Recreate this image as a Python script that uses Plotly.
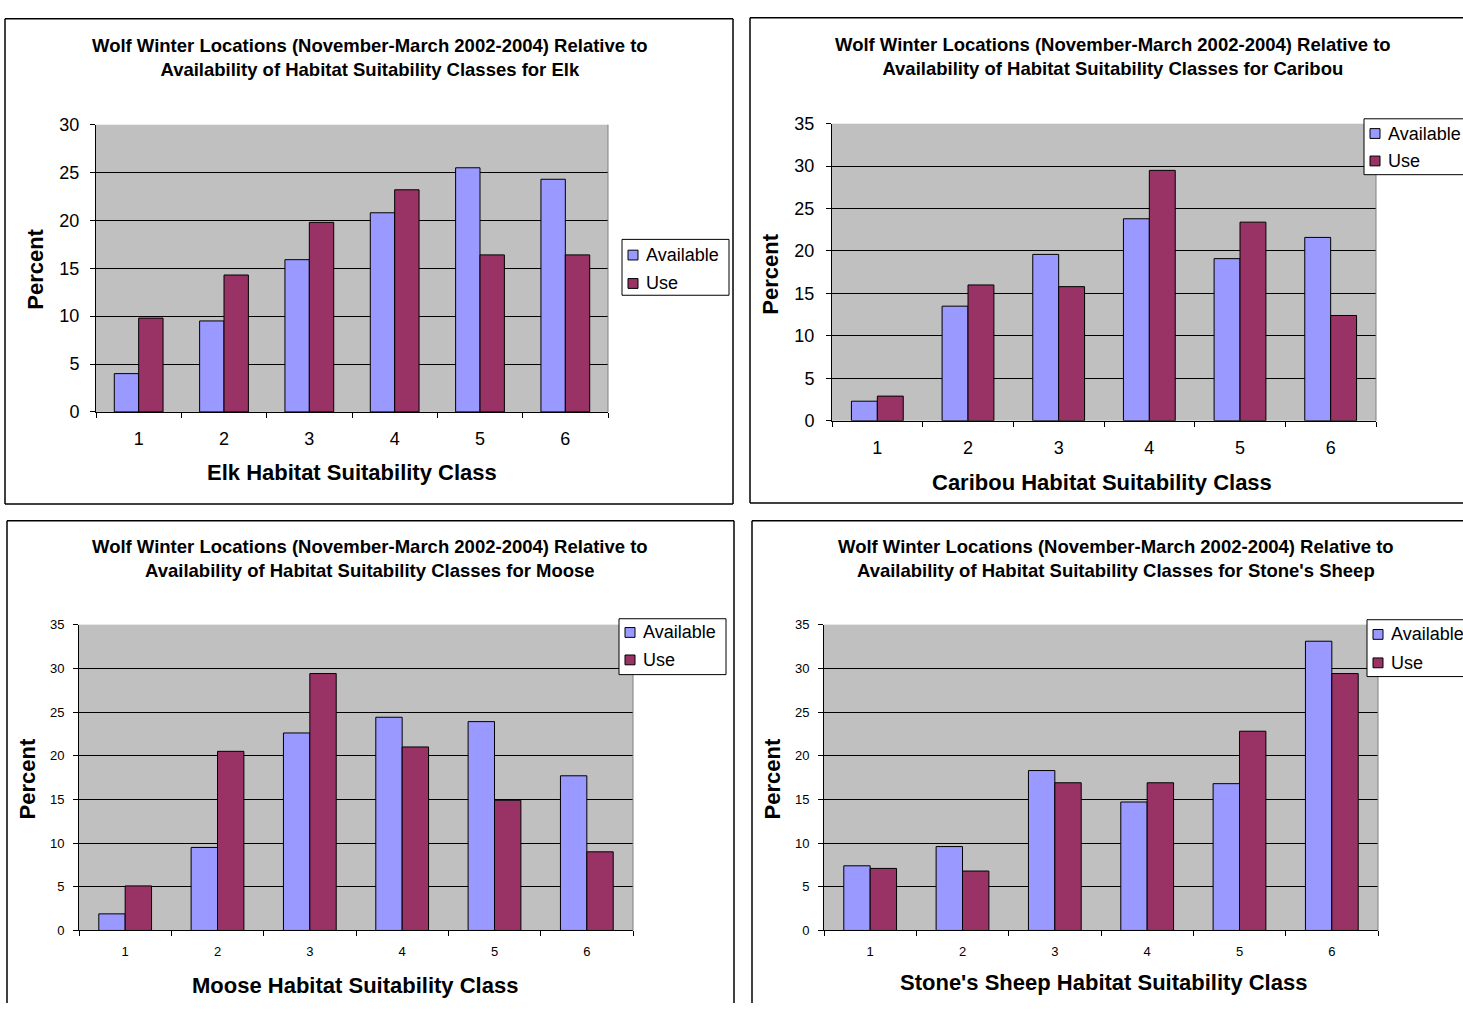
import plotly.graph_objects as go

W, H = 1463, 1013

classes = ["1", "2", "3", "4", "5", "6"]

elk_available = [4.0, 9.5, 15.9, 20.8, 25.5, 24.3]
elk_use = [9.8, 14.3, 19.8, 23.2, 16.4, 16.4]

caribou_available = [2.3, 13.5, 19.6, 23.8, 19.1, 21.6]
caribou_use = [2.9, 16.0, 15.8, 29.5, 23.4, 12.4]

moose_available = [1.9, 9.5, 22.6, 24.4, 23.9, 17.7]
moose_use = [5.1, 20.5, 29.4, 21.0, 14.9, 9.0]

sheep_available = [7.4, 9.6, 18.3, 14.7, 16.8, 33.1]
sheep_use = [7.1, 6.8, 16.9, 16.9, 22.8, 29.4]

series_names = ["Available", "Use"]
species = ["Elk", "Caribou", "Moose", "Stone's Sheep"]

AVAIL_COLOR = "#9999FF"
USE_COLOR = "#993366"
SERIES_COLORS = (AVAIL_COLOR, USE_COLOR)
PLOT_BG = "#C0C0C0"
FONT = "Arial, Liberation Sans, sans-serif"


def px_x(v):
    return min(v, W) / W


def px_y(v):
    return 1 - min(v, H) / H


# per-panel layout in pixels: plot area, frame edges, title, axis titles, legend box
panels = [
    dict(data=(elk_available, elk_use), ymax=30,
         plot=(96, 608, 117, 410), frame=(5, 733, 9, 504),
         title_xy=(370, 48), xt_xy=(352, 472), yt_xy=(36, 265),
         legend=(622, 729, 234, 291), rows=(250, 279),
         tick=18, ystand=7, xstand=10),
    dict(data=(caribou_available, caribou_use), ymax=35,
         plot=(832, 1376, 116, 419), frame=(750, 1500, 8, 503),
         title_xy=(1113, 47), xt_xy=(1102, 482), yt_xy=(771, 270),
         legend=(1364, 1500, 111, 168), rows=(126, 154),
         tick=18, ystand=8, xstand=11),
    dict(data=(moose_available, moose_use), ymax=35,
         plot=(79, 633, 627, 939), frame=(7, 734, 521, 1100),
         title_xy=(370, 560), xt_xy=(355, 995), yt_xy=(28, 785),
         legend=(619, 726, 621, 678), rows=(635, 663),
         tick=13, ystand=6, xstand=9),
    dict(data=(sheep_available, sheep_use), ymax=35,
         plot=(824, 1378, 627, 939), frame=(752, 1500, 521, 1100),
         title_xy=(1116, 560), xt_xy=(1103, 992), yt_xy=(773, 785),
         legend=(1367, 1500, 622, 680), rows=(637, 666),
         tick=13, ystand=6, xstand=9),
]

fig = go.Figure()
layout = dict(
    width=W, height=H,
    margin=dict(l=0, r=0, t=0, b=0),
    paper_bgcolor="white",
    plot_bgcolor=PLOT_BG,
    barmode="group",
    bargap=0.4286,
    bargroupgap=0,
    font=dict(family=FONT, color="black"),
    showlegend=False,
)

annotations = []
shapes = []


def edge_lines(x0, x1, y0, y1, color="black", width=1.5, fill=None):
    """Box outline; sides lying past the page edge are left out."""
    out = []
    if fill:
        out.append(dict(type="rect", xref="paper", yref="paper",
                        x0=px_x(x0), x1=px_x(x1), y0=px_y(y1), y1=px_y(y0),
                        line=dict(width=0), fillcolor=fill))
    segs = [((x0, y0), (x1, y0))]                      # top
    segs.append(((x0, y0), (x0, y1)))                  # left
    if y1 <= H:
        segs.append(((x0, y1), (x1, y1)))              # bottom
    if x1 <= W:
        segs.append(((x1, y0), (x1, y1)))              # right
    for (ax, ay), (bx, by) in segs:
        out.append(dict(type="line", xref="paper", yref="paper",
                        x0=px_x(ax), x1=px_x(bx), y0=px_y(ay), y1=px_y(by),
                        line=dict(color=color, width=width)))
    return out


for i, (p, name) in enumerate(zip(panels, species)):
    n = "" if i == 0 else str(i + 1)
    xa, ya = "x" + n, "y" + n
    x0, x1, y0, y1 = p["plot"]

    for vals, sname, color in zip(p["data"], series_names, SERIES_COLORS):
        fig.add_trace(go.Bar(
            x=classes, y=vals, name=sname,
            marker=dict(color=color, line=dict(color="black", width=1)),
            xaxis=xa, yaxis=ya,
        ))

    layout["xaxis" + n] = dict(
        domain=[px_x(x0), px_x(x1)], anchor=ya,
        type="category", tickson="boundaries",
        ticks="outside", ticklen=5, tickcolor="black",
        showline=True, linecolor="black", linewidth=1,
        showgrid=False, zeroline=False,
        tickfont=dict(size=p["tick"], family=FONT, color="black"),
        ticklabelstandoff=p["xstand"],
        fixedrange=True,
    )
    layout["yaxis" + n] = dict(
        domain=[px_y(y1), px_y(y0)], anchor=xa,
        range=[0, p["ymax"]], dtick=5,
        ticks="outside", ticklen=5, tickcolor="black",
        showline=True, linecolor="black", linewidth=1,
        showgrid=True, gridcolor="black", gridwidth=1,
        zeroline=False,
        tickfont=dict(size=p["tick"], family=FONT, color="black"),
        ticklabelstandoff=p["ystand"],
        fixedrange=True,
    )

    # panel frame
    shapes.extend(edge_lines(*p["frame"]))
    # right edge of plot area
    shapes.append(dict(type="line", xref="paper", yref="paper",
                       x0=px_x(x1), x1=px_x(x1), y0=px_y(y1), y1=px_y(y0),
                       line=dict(color="#808080", width=1)))

    # legend box with a swatch and label per series
    lx0, lx1, ly0, ly1 = p["legend"]
    shapes.extend(edge_lines(lx0, lx1, ly0, ly1, width=1, fill="white"))
    for sname, color, ry in zip(series_names, SERIES_COLORS, p["rows"]):
        shapes.append(dict(type="rect", xref="paper", yref="paper",
                           x0=px_x(lx0 + 6), x1=px_x(lx0 + 16),
                           y0=px_y(ry + 5), y1=px_y(ry - 5),
                           line=dict(color="black", width=1), fillcolor=color))
        annotations.append(dict(
            text=sname, x=px_x(lx0 + 23), y=px_y(ry), xref="paper", yref="paper",
            xanchor="left", yanchor="middle", showarrow=False, borderpad=0,
            font=dict(size=18, family=FONT, color="black"),
        ))

    tx, ty = p["title_xy"]
    annotations.append(dict(
        text="<b>Wolf Winter Locations (November-March 2002-2004) Relative to<br>"
             f"Availability of Habitat Suitability Classes for {name}</b>",
        x=px_x(tx), y=px_y(ty), xref="paper", yref="paper",
        xanchor="center", yanchor="middle", showarrow=False,
        font=dict(size=18.5, family=FONT, color="black"), align="center",
    ))
    xtx, xty = p["xt_xy"]
    annotations.append(dict(
        text=f"<b>{name} Habitat Suitability Class</b>",
        x=px_x(xtx), y=px_y(xty), xref="paper", yref="paper",
        xanchor="center", yanchor="middle", showarrow=False,
        font=dict(size=22, family=FONT, color="black"),
    ))
    ytx, yty = p["yt_xy"]
    annotations.append(dict(
        text="<b>Percent</b>",
        x=px_x(ytx), y=px_y(yty), xref="paper", yref="paper",
        xanchor="center", yanchor="middle", showarrow=False, textangle=-90,
        font=dict(size=22, family=FONT, color="black"),
    ))

layout["annotations"] = annotations
layout["shapes"] = shapes
fig.update_layout(**layout)

fig.write_html("out.html", config={"displayModeBar": False})
